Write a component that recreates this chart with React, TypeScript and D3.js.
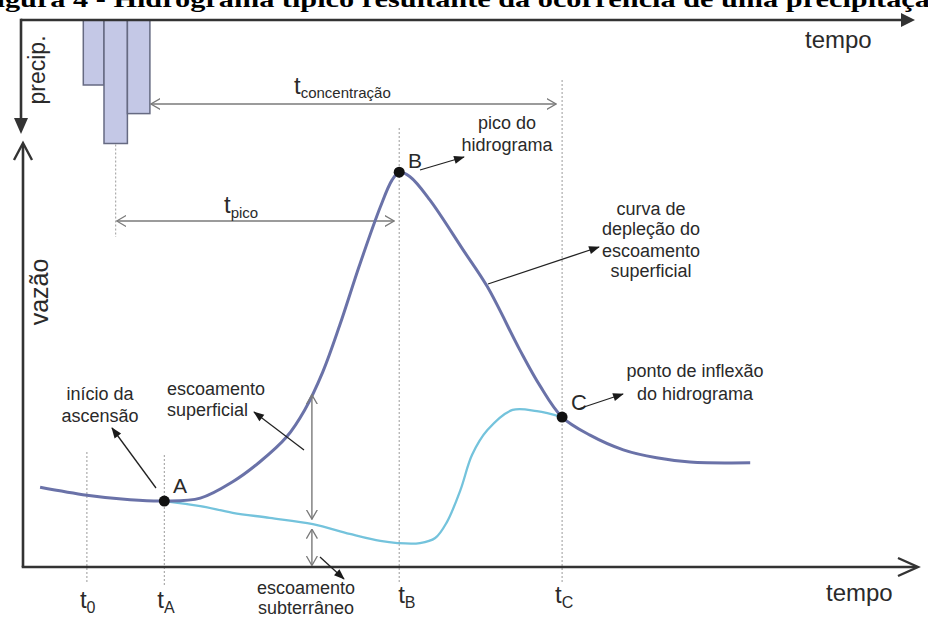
import React from "react";
import * as d3 from "d3";

// ---- data (time in arbitrary units, flow / precipitation in relative units) ----
const totalTime = [1.9, 7.1, 11.9, 15.7, 19.7, 23.3, 26.3, 29.3, 31.3, 33.3, 35.2, 37.4, 39.7, 41.0, 41.8, 43.0, 45.2, 48.9, 51.6, 55.2, 57.4, 59.9, 63.0, 66.7, 70.4, 74.1, 80.8];
const totalFlow = [19.0, 17.1, 16.0, 15.7, 16.4, 20.3, 25.0, 31.0, 37.4, 46.4, 57.6, 71.9, 85.7, 92.1, 94.0, 92.9, 87.4, 75.5, 66.7, 51.7, 43.3, 35.7, 31.4, 27.9, 26.0, 25.0, 24.8];

const baseTime = [15.7, 19.7, 23.3, 27.4, 32.2, 36.3, 39.7, 41.6, 44.1, 45.8, 47.1, 48.6, 49.9, 51.6, 54.4, 57.1, 59.9];
const baseFlow = [15.7, 14.5, 12.9, 11.7, 10.2, 7.9, 6.2, 5.7, 5.7, 6.9, 10.7, 18.3, 26.7, 32.6, 37.4, 37.1, 35.7];

const rainStart = [6.7, 9.0, 11.6];
const rainEnd = [9.0, 11.6, 14.1];
const rainDepth = [5.0, 9.5, 7.2];

const keyNames = ["A", "B", "C"];
const keyTime = [15.7, 41.8, 59.9];
const keyFlow = [15.7, 94.0, 35.7];

const tickSubs = ["0", "A", "B", "C"];
const tickTimes = [7.1, 15.7, 41.8, 59.9];

const rainCentroid = 10.3;
const splitTime = 32.1;
const splitTotal = 41.0;
const splitBase = 10.2;

const W = 928;
const H = 619;

export default function App() {
  const x = d3.scaleLinear().domain([0, 100]).range([23, 923]);
  const y = d3.scaleLinear().domain([0, 100]).range([567, 147]);
  const p = d3.scaleLinear().domain([0, 10]).range([20, 150]);

  const mk = d3
    .line<[number, number]>()
    .x((d) => x(d[0]))
    .y((d) => y(d[1]))
    .curve(d3.curveCatmullRom.alpha(0.5));
  const totalPath = mk(totalTime.map((t, i) => [t, totalFlow[i]] as [number, number]));
  const basePath = mk(baseTime.map((t, i) => [t, baseFlow[i]] as [number, number]));

  const sans = "'Liberation Sans', Arial, Helvetica, sans-serif";
  const txt = "#2a2a2a";
  const axisCol = "#333";
  const dash = "#9a9a9a";
  const dbl = "#7a7a7a";

  const tB = x(keyTime[1]);
  const tC = x(keyTime[2]);
  const sx = x(splitTime);

  return (
    <svg
      width={W}
      height={H}
      viewBox={`0 0 ${W} ${H}`}
      style={{ position: "absolute", left: 0, top: 0, display: "block", background: "#fff" }}
    >
      <defs>
        <marker id="fa" viewBox="0 0 12 10" refX="11" refY="5" markerWidth="12" markerHeight="9" markerUnits="userSpaceOnUse" orient="auto">
          <path d="M0,0.5 L12,5 L0,9.5 z" fill="#1a1a1a" />
        </marker>
        <marker id="oa" viewBox="0 0 10 12" refX="9.5" refY="6" markerWidth="10" markerHeight="12" markerUnits="userSpaceOnUse" orient="auto-start-reverse">
          <path d="M0,0.5 L9.5,6 L0,11.5" fill="none" stroke={dbl} strokeWidth={1.3} />
        </marker>
      </defs>

      {/* clipped caption at top */}
      <text
        x={-22}
        y={7}
        fontFamily="'Liberation Serif', 'Times New Roman', serif"
        fontWeight="bold"
        fontSize={24}
        fill="#000"
        textLength={967}
        lengthAdjust="spacingAndGlyphs"
      >
        Figura 4 - Hidrograma típico resultante da ocorrência de uma precipitação
      </text>

      {/* precipitation bars */}
      {rainDepth.map((d, i) => (
        <rect
          key={i}
          x={x(rainStart[i])}
          y={p(0)}
          width={x(rainEnd[i]) - x(rainStart[i])}
          height={p(d) - p(0)}
          fill="#c4c8e6"
          stroke="#666a82"
          strokeWidth={1.5}
        />
      ))}

      {/* top axis (time) and precipitation axis */}
      <line x1={21} y1={p(0)} x2={903} y2={p(0)} stroke={axisCol} strokeWidth={2.6} />
      <path d={`M901,${p(0) - 7} L915,${p(0)} L901,${p(0) + 7} z`} fill={axisCol} />
      <line x1={21} y1={p(0) - 1.3} x2={21} y2={120} stroke={axisCol} strokeWidth={2.6} />
      <path d="M14,118 L21,134 L28,118 z" fill={axisCol} />
      <text x={805} y={48} fontFamily={sans} fontSize={24} fill={txt}>tempo</text>
      <text transform="translate(45,70) rotate(-90)" textAnchor="middle" fontFamily={sans} fontSize={23} fill={txt}>precip.</text>

      {/* dotted reference lines */}
      <line x1={x(rainCentroid)} y1={p(rainDepth[1]) + 1} x2={x(rainCentroid)} y2={237} stroke={dash} strokeWidth={1} strokeDasharray="2,2" />
      <line x1={x(tickTimes[0])} y1={452} x2={x(tickTimes[0])} y2={583} stroke={dash} strokeWidth={1} strokeDasharray="2,2" />
      <line x1={x(tickTimes[1])} y1={455} x2={x(tickTimes[1])} y2={585} stroke={dash} strokeWidth={1} strokeDasharray="2,2" />
      <line x1={tB} y1={128} x2={tB} y2={583} stroke={dash} strokeWidth={1} strokeDasharray="2,2" />
      <line x1={tC} y1={80} x2={tC} y2={583} stroke={dash} strokeWidth={1} strokeDasharray="2,2" />

      {/* time spans */}
      <line x1={x(rainEnd[2]) + 1} y1={104} x2={tC - 6} y2={104} stroke={dbl} strokeWidth={1.4} markerStart="url(#oa)" markerEnd="url(#oa)" />
      <text x={294} y={94} fontFamily={sans} fill={txt}>
        <tspan fontSize={24}>t</tspan>
        <tspan fontSize={15} dy={4}>concentração</tspan>
      </text>
      <line x1={x(rainCentroid) + 1} y1={221} x2={tB - 5} y2={221} stroke={dbl} strokeWidth={1.4} markerStart="url(#oa)" markerEnd="url(#oa)" />
      <text x={224} y={213} fontFamily={sans} fill={txt}>
        <tspan fontSize={24}>t</tspan>
        <tspan fontSize={15} dy={5}>pico</tspan>
      </text>

      {/* lower axes */}
      <line x1={23} y1={y(0)} x2={23} y2={144} stroke={axisCol} strokeWidth={2.6} />
      <path d="M14,160 L23,143 L32,160" fill="none" stroke={axisCol} strokeWidth={2.4} />
      <line x1={21.7} y1={y(0)} x2={916} y2={y(0)} stroke={axisCol} strokeWidth={2.6} />
      <path d={`M898,${y(0) - 9} L918,${y(0)} L898,${y(0) + 9}`} fill="none" stroke={axisCol} strokeWidth={2.4} />
      <text transform="translate(48,292) rotate(-90)" textAnchor="middle" fontFamily={sans} fontSize={25} fill={txt}>vazão</text>
      <text x={826} y={601} fontFamily={sans} fontSize={24} fill={txt}>tempo</text>

      {/* time tick labels */}
      {tickSubs.map((s, i) => (
        <text key={s} x={x(tickTimes[i]) - (i === 2 ? 1 : 7)} y={i < 2 ? 608 : 603} fontFamily={sans} fill={txt}>
          <tspan fontSize={24}>t</tspan>
          <tspan fontSize={16} dy={5}>{s}</tspan>
        </text>
      ))}

      {/* hydrograph curves */}
      <path d={basePath || ""} fill="none" stroke="#74c3dc" strokeWidth={2.3} />
      <path d={totalPath || ""} fill="none" stroke="#6a72a8" strokeWidth={3} strokeLinejoin="round" />

      {/* separation arrows */}
      <line x1={sx} y1={y(splitTotal)} x2={sx} y2={y(splitBase) - 5} stroke={dbl} strokeWidth={1.4} markerStart="url(#oa)" markerEnd="url(#oa)" />
      <line x1={sx} y1={y(splitBase) + 5} x2={sx} y2={y(0) - 1.5} stroke={dbl} strokeWidth={1.4} markerStart="url(#oa)" markerEnd="url(#oa)" />

      {/* key points */}
      {keyNames.map((n, i) => (
        <circle key={n} cx={x(keyTime[i])} cy={y(keyFlow[i])} r={5.5} fill="#111" />
      ))}
      <text x={173} y={493} fontFamily={sans} fontSize={21} fill={txt}>A</text>
      <text x={408} y={168} fontFamily={sans} fontSize={21} fill={txt}>B</text>
      <text x={571} y={410} fontFamily={sans} fontSize={22} fill={txt}>C</text>

      {/* annotations */}
      <g fontFamily={sans} fontSize={18} fill={txt}>
        <text x={100} y={400} textAnchor="middle">início da</text>
        <text x={100} y={422} textAnchor="middle">ascensão</text>
        <text x={167} y={395}>escoamento</text>
        <text x={167} y={416}>superficial</text>
        <text x={306} y={594} textAnchor="middle">escoamento</text>
        <text x={306} y={614} textAnchor="middle">subterrâneo</text>
        <text x={507} y={129} textAnchor="middle">pico do</text>
        <text x={507} y={151} textAnchor="middle">hidrograma</text>
        <text x={651} y={215} textAnchor="middle">curva de</text>
        <text x={651} y={235} textAnchor="middle">depleção do</text>
        <text x={651} y={257} textAnchor="middle">escoamento</text>
        <text x={651} y={277} textAnchor="middle">superficial</text>
        <text x={695} y={377} textAnchor="middle">ponto de inflexão</text>
        <text x={695} y={400} textAnchor="middle">do hidrograma</text>
      </g>
      <g stroke="#222" strokeWidth={1.3}>
        <line x1={156} y1={488} x2={112} y2={428} markerEnd="url(#fa)" />
        <line x1={304} y1={450} x2={254} y2={412} markerEnd="url(#fa)" />
        <line x1={320} y1={557} x2={344} y2={579} markerEnd="url(#fa)" />
        <line x1={420} y1={170} x2={464} y2={157} markerEnd="url(#fa)" />
        <line x1={488} y1={284} x2={599} y2={247} markerEnd="url(#fa)" />
        <line x1={578} y1={409} x2={623} y2={394} markerEnd="url(#fa)" />
      </g>
    </svg>
  );
}
